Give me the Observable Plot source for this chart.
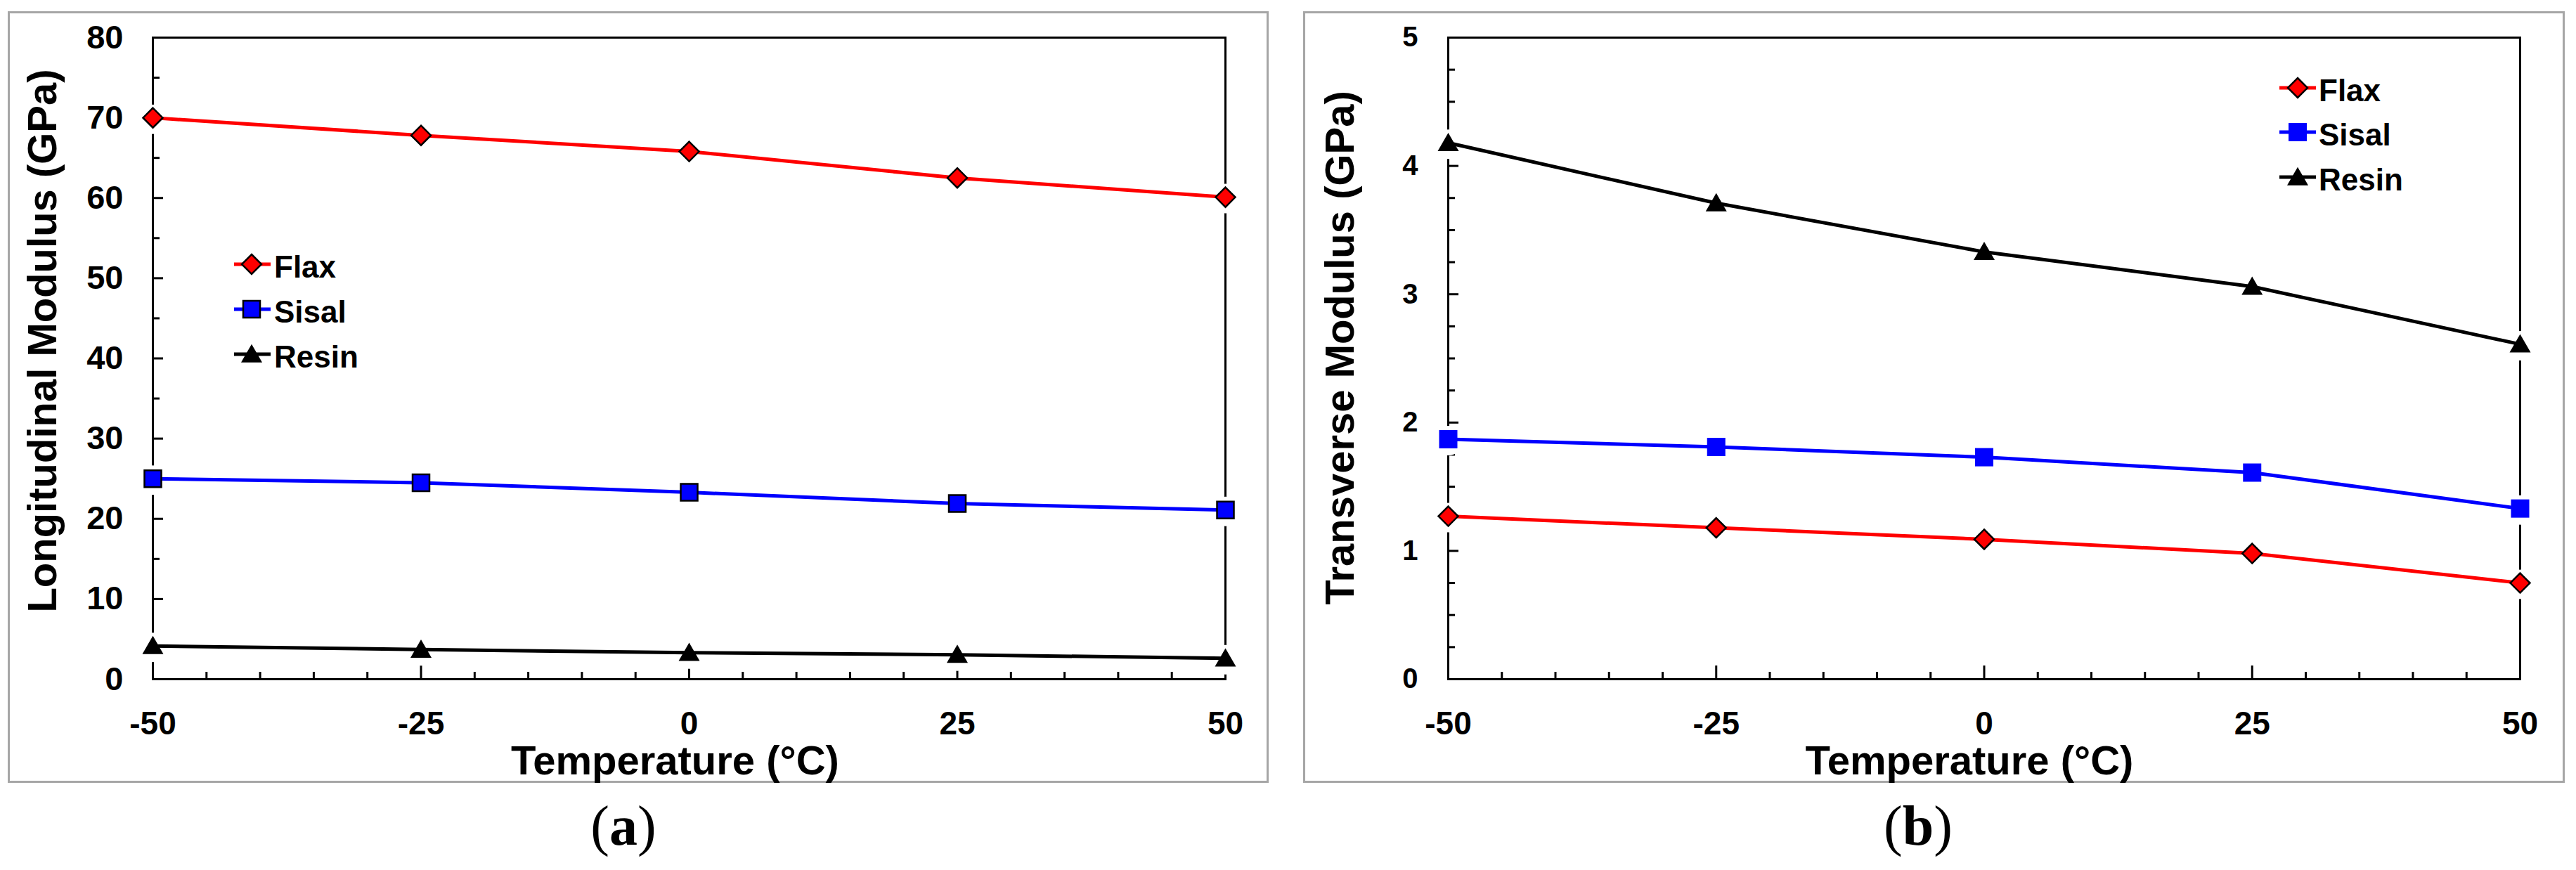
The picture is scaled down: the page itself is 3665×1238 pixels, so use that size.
<!DOCTYPE html>
<html>
<head>
<meta charset="utf-8">
<script src="https://cdn.jsdelivr.net/npm/d3@7"></script>
<script src="https://cdn.jsdelivr.net/npm/@observablehq/plot@0.6"></script>
<style>
html, body { margin: 0; padding: 0; background: #fff; }
#page { position: relative; width: 3665px; height: 1238px; overflow: hidden; background: #fff; }
.panel { position: absolute; box-sizing: border-box; border: 3px solid #a6a6a6; }
</style>
</head>
<body>
<div id="page">
  <div class="panel" style="left:11px; top:16px; width:1794px; height:1098px;"></div>
  <div class="panel" style="left:1854px; top:16px; width:1795px; height:1098px;"></div>
</div>
<script>
const FONT = '"Liberation Sans", Arial, Helvetica, sans-serif';
const SERIF = '"Liberation Serif", "Times New Roman", serif';

// ---- data ----
const temperatures = [-50, -25, 0, 25, 50];
const seriesNames = ["Flax", "Sisal", "Resin"];
const seriesColors = ["#ff0000", "#0000ff", "#000000"];

const longitudinalFlax  = [70.0, 67.8, 65.8, 62.5, 60.1];
const longitudinalSisal = [25.0, 24.5, 23.3, 21.9, 21.1];
const longitudinalResin = [4.15, 3.7, 3.3, 3.05, 2.6];

const transverseFlax  = [1.27, 1.18, 1.09, 0.98, 0.75];
const transverseSisal = [1.87, 1.81, 1.73, 1.61, 1.33];
const transverseResin = [4.18, 3.71, 3.33, 3.06, 2.61];

const xMajorTicks = [-50, -25, 0, 25, 50];
const xMinorTicks = [-45, -40, -35, -30, -20, -15, -10, -5, 5, 10, 15, 20, 30, 35, 40, 45];
const yMajorTicksA = [0, 10, 20, 30, 40, 50, 60, 70, 80];
const yMinorTicksA = [5, 15, 25, 35, 45, 55, 65, 75];
const yMajorTicksB = [0, 1, 2, 3, 4, 5];
const yMinorTicksB = [0.25, 0.5, 0.75, 1.25, 1.5, 1.75, 2.25, 2.5, 2.75, 3.25, 3.5, 3.75, 4.25, 4.5, 4.75];

const xTitle = "Temperature (°C)";
const yTitleA = "Longitudinal Modulus (GPa)";
const yTitleB = "Transverse Modulus (GPa)";
const captionLetters = ["a", "b"];

// ---- symbol size helpers (Plot: size = PI r^2) ----
const rFromSize = s => Math.sqrt(s / Math.PI);
const diamondSize = half => (half / 0.62625) ** 2;
const squareSize = side => side * side;
const triangleSize = w => { const y = w / (2 * Math.sqrt(3)); return y * y * 3 * Math.sqrt(3); };
const plain = d => String(d);
const blank = () => "";

function makePanel(cfg) {
  const data = seriesNames.flatMap((name, k) =>
    temperatures.map((t, i) => ({series: name, temp: t, value: cfg.values[k][i]})));
  const H = 1238;
  const plotBottom = 966;
  const sizes = [diamondSize(14), squareSize(cfg.squareSide), triangleSize(30)];
  const strokes = ["black", cfg.squareStroke, "none"];
  const symbols = ["diamond2", "square", "triangle"];
  const d3symbols = [d3.symbolDiamond2, d3.symbolSquare, d3.symbolTriangle];
  const triDy = 3;
  const lineW = 5;

  const plot = Plot.plot({
    width: cfg.width,
    height: H,
    marginLeft: cfg.marginLeft,
    marginRight: cfg.marginRight,
    marginTop: 53,
    marginBottom: H - plotBottom,
    x: {domain: [-50, 50]},
    y: {domain: cfg.yDomain},
    color: {domain: seriesNames, range: seriesColors},
    style: {fontFamily: FONT, fontWeight: "bold", color: "black", background: "transparent", overflow: "visible"},
    marks: [
      Plot.frame({stroke: "black", strokeWidth: 3}),
      // inward ticks: draw outward ticks then shift them inside the frame
      Plot.axisX(xMinorTicks, {tickSize: 10, dy: -10, strokeWidth: 3, tickFormat: blank, label: null}),
      Plot.axisX(xMajorTicks, {tickSize: 19, dy: -19, strokeWidth: 3, tickFormat: blank, label: null}),
      Plot.axisY(cfg.yMinor, {tickSize: 10, dx: 10, strokeWidth: 3, tickFormat: blank, label: null}),
      Plot.axisY(cfg.yMajor, {tickSize: 15, dx: 15, strokeWidth: 3, tickFormat: blank, label: null}),
      // tick labels
      Plot.axisX(xMajorTicks, {tickSize: 0, tickPadding: 46, fontSize: 46, fontWeight: "bold", tickFormat: plain, label: null}),
      Plot.axisY(cfg.yMajor, {tickSize: 0, tickPadding: cfg.yTickGap, fontSize: cfg.yTickFont, fontWeight: "bold", tickFormat: plain, label: null}),
      // axis titles
      Plot.text([xTitle], {frameAnchor: "bottom", text: d => d, dx: cfg.xTitleDx, dy: 135, textAnchor: "middle", lineAnchor: "bottom", fontSize: 58, fontWeight: "bold"}),
      Plot.text([cfg.yTitle], {frameAnchor: "left", text: d => d, rotate: -90, dx: cfg.yTitleDx, dy: cfg.yTitleDy, textAnchor: "middle", lineAnchor: "middle", fontSize: 58, fontWeight: "bold"}),
      // white halo behind markers
      Plot.dot(data, {x: "temp", y: "value", r: 21, fill: "white", stroke: "none", dy: 2, ariaLabel: "halo"}),
      Plot.line(data, {x: "temp", y: "value", z: "series", stroke: "series", strokeWidth: lineW}),
      ...seriesNames.map((name, k) => Plot.dot(data, {
        filter: d => d.series === name,
        x: "temp", y: "value",
        symbol: symbols[k], r: rFromSize(sizes[k]),
        fill: seriesColors[k], stroke: strokes[k], strokeWidth: 2.5,
        dy: k === 2 ? triDy : 0,
        ariaLabel: "marker"
      }))
    ]
  });

  const svg = d3.select(plot);
  svg.style("position", "absolute").style("left", cfg.left + "px").style("top", "0px");
  svg.selectAll('g[aria-label="marker"]').style("filter", "drop-shadow(0px 5px 3px rgba(0,0,0,0.35))");

  // legend (in-panel)
  const lg = svg.append("g").attr("font-family", FONT).attr("font-weight", "bold")
    .attr("font-size", 44).attr("text-anchor", "start");
  seriesNames.forEach((name, k) => {
    const y = cfg.legendRows[k];
    lg.append("line").attr("x1", cfg.legendLine[0]).attr("x2", cfg.legendLine[1])
      .attr("y1", y).attr("y2", y).attr("stroke", seriesColors[k]).attr("stroke-width", lineW);
    lg.append("path").attr("transform", `translate(${cfg.legendMarkerX},${y + (k === 2 ? triDy : 0)})`)
      .attr("d", d3.symbol(d3symbols[k], sizes[k])())
      .attr("fill", seriesColors[k]).attr("stroke", strokes[k]).attr("stroke-width", 2.5);
    lg.append("text").attr("x", cfg.legendTextX).attr("y", y + 19).attr("fill", "black")
      .attr("text-anchor", "start").text(name);
  });

  // caption
  const cap = svg.append("text").attr("x", cfg.captionX).attr("y", 1202)
    .attr("text-anchor", "middle").attr("font-family", SERIF).attr("font-size", 80)
    .attr("font-weight", "normal").attr("fill", "black");
  cap.append("tspan").text("(");
  cap.append("tspan").attr("font-weight", "bold").text(cfg.caption);
  cap.append("tspan").text(")");

  document.getElementById("page").appendChild(plot);
}

makePanel({
  left: 0, width: 1830, marginLeft: 217, marginRight: 87,
  values: [longitudinalFlax, longitudinalSisal, longitudinalResin],
  yDomain: [0, 80], yMajor: yMajorTicksA, yMinor: yMinorTicksA,
  yTickFont: 47, yTickGap: 42,
  yTitle: yTitleA, yTitleDx: -156, yTitleDy: -25, xTitleDx: -20,
  squareSide: 24, squareStroke: "black",
  legendRows: [376, 440, 504], legendLine: [333, 385], legendMarkerX: 358, legendTextX: 390,
  caption: captionLetters[0], captionX: 887
});

makePanel({
  left: 1830, width: 1835, marginLeft: 230, marginRight: 80,
  values: [transverseFlax, transverseSisal, transverseResin],
  yDomain: [0, 5], yMajor: yMajorTicksB, yMinor: yMinorTicksB,
  yTickFont: 40, yTickGap: 43,
  yTitle: yTitleB, yTitleDx: -153, yTitleDy: -15, xTitleDx: -21,
  squareSide: 26, squareStroke: "none",
  legendRows: [125, 188, 252], legendLine: [1413, 1465], legendMarkerX: 1439, legendTextX: 1469,
  caption: captionLetters[1], captionX: 899
});
</script>
</body>
</html>
